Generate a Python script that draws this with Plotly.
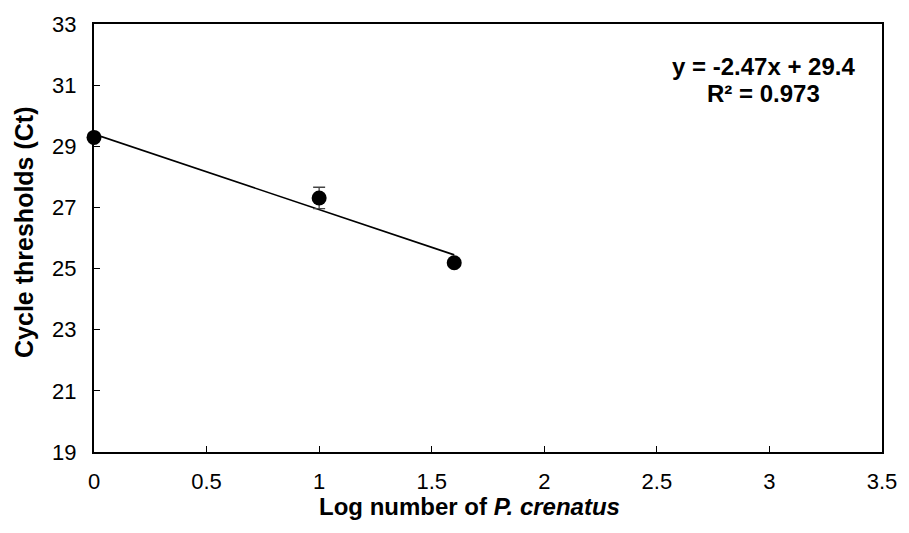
import plotly.graph_objects as go

# Standard curve data: log copy number vs. cycle threshold
log_number = [0, 1, 1.6]
ct_mean = [29.29, 27.31, 25.19]
ct_err = [0.1, 0.35, 0.08]

# Linear fit reported on the chart
slope = -2.47
intercept = 29.4
r_squared = 0.973

x_ticks = [0, 0.5, 1, 1.5, 2, 2.5, 3, 3.5]
x_tick_text = ["0", "0.5", "1", "1.5", "2", "2.5", "3", "3.5"]
y_ticks = [19, 21, 23, 25, 27, 29, 31, 33]

fit_x = [min(log_number), max(log_number)]
fit_y = [slope * v + intercept for v in fit_x]

FONT = "Liberation Sans, Arial, sans-serif"

fig = go.Figure()

fig.add_trace(go.Scatter(
    x=fit_x, y=fit_y, mode="lines",
    line=dict(color="black", width=1.6),
    hoverinfo="skip", showlegend=False,
))

fig.add_trace(go.Scatter(
    x=log_number, y=ct_mean, mode="markers",
    marker=dict(color="black", size=15),
    error_y=dict(type="data", array=ct_err, color="#444444", thickness=1.3, width=6),
    cliponaxis=False, showlegend=False,
))

# Regression equation, two tightly spaced lines
eq_font = dict(family=FONT, size=24, color="black")
fig.add_annotation(x=0.849, y=0.901, xref="paper", yref="paper",
                   xanchor="center", yanchor="middle", showarrow=False,
                   text=f"<b>y = {slope}x + {intercept}</b>", font=eq_font)
fig.add_annotation(x=0.849, y=0.837, xref="paper", yref="paper",
                   xanchor="center", yanchor="middle", showarrow=False,
                   text=f"<b>R² = {r_squared}</b>", font=eq_font)

# Axis titles
fig.add_annotation(x=0.476, y=-0.127, xref="paper", yref="paper",
                   xanchor="center", yanchor="middle", showarrow=False,
                   text="<b>Log number of <i>P. crenatus</i></b>",
                   font=dict(family=FONT, size=24, color="black"))
fig.add_annotation(x=-0.0882, y=0.513, xref="paper", yref="paper",
                   xanchor="center", yanchor="middle", showarrow=False,
                   textangle=-90,
                   text="<b>Cycle thresholds (Ct)</b>",
                   font=dict(family=FONT, size=25, color="black"))

fig.update_layout(
    width=909, height=533,
    margin=dict(l=94, r=21, t=19, b=81),
    paper_bgcolor="white", plot_bgcolor="white",
    font=dict(family=FONT, color="black"),
    xaxis=dict(
        range=[0, 3.5], tickvals=x_ticks, ticktext=x_tick_text,
        ticks="inside", ticklen=6, tickwidth=1.2, tickcolor="black",
        ticklabelstandoff=9,
        showline=True, linecolor="black", linewidth=2, mirror=True,
        showgrid=False, zeroline=False,
        tickfont=dict(family=FONT, size=22, color="black"),
    ),
    yaxis=dict(
        range=[19, 33], tickvals=y_ticks,
        ticks="inside", ticklen=6, tickwidth=1.2, tickcolor="black",
        ticklabelstandoff=11,
        showline=True, linecolor="black", linewidth=2, mirror=True,
        showgrid=False, zeroline=False,
        tickfont=dict(family=FONT, size=22, color="black"),
    ),
)

fig.write_html("out.html")
